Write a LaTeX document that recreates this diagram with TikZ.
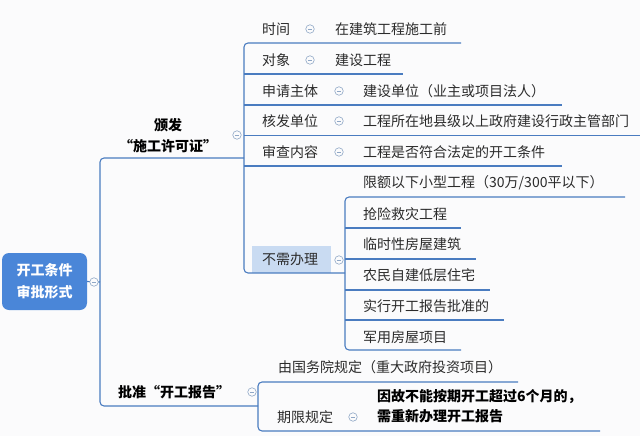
\documentclass[tikz,border=0pt]{standalone}
\usepackage{fontspec}
\newfontfamily\cjk{Noto Sans CJK SC}
\definecolor{ln}{HTML}{4A7CC0}
\definecolor{fc}{HTML}{8FA7C6}
\definecolor{tx}{HTML}{2B2B2B}
\definecolor{rootc}{HTML}{4A86D8}
\definecolor{hl}{HTML}{C9DBF2}
\definecolor{bg}{HTML}{FBFBFC}
\begin{document}
\begin{tikzpicture}[x=1pt,y=-1pt,
  txt/.style={anchor=west,inner sep=0pt,font=\cjk\fontsize{14}{17}\selectfont,text=tx},
  btxt/.style={anchor=west,inner sep=0pt,align=left,font=\cjk\bfseries\fontsize{14}{20}\selectfont,text=black},
  conn/.style={draw=ln,line width=1.1pt,rounded corners=4pt},
  fold/.style={circle,draw=fc,line width=0.6pt,fill=bg,minimum size=8.5pt,inner sep=0pt,
    path picture={\draw[fc,line width=0.6pt] ([xshift=-2.2pt]path picture bounding box.center) -- ([xshift=2.2pt]path picture bounding box.center);}}
]
\fill[bg] (0,0) rectangle (640,436);
\useasboundingbox (0,0) rectangle (640,436);

% root
\node[rectangle,rounded corners=7pt,fill=rootc,minimum width=85pt,minimum height=57pt,inner sep=0pt,
  align=center,text=white,font=\cjk\bfseries\fontsize{14}{22}\selectfont] (root) at (44.5,281.5) {开工条件\\审批形式};

% branch 1
\node[inner sep=0pt,align=center,font=\cjk\bfseries\fontsize{14}{21}\selectfont,text=black] (b1) at (168,135.5) {颁发\\“施工许可证”};
\node[btxt] (b2) at (118,392) {批准“开工报告”};

% children of branch 1
\node[txt] (c1) at (262,29) {时间};
\node[txt] (c2) at (262,60) {对象};
\node[txt] (c3) at (262,91) {申请主体};
\node[txt] (c4) at (262,121) {核发单位};
\node[txt] (c5) at (262,152) {审查内容};
\fill[hl] (252,246) rectangle (331,273);
\node[txt] (c6) at (262,259.5) {不需办理};

\node[txt] (g1) at (335,29) {在建筑工程施工前};
\node[txt] (g2) at (335,60) {建设工程};
\node[txt] (g3) at (363,91) {建设单位（业主或项目法人）};
\node[txt] (g4) at (363,121) {工程所在地县级以上政府建设行政主管部门};
\node[txt] (g5) at (363,152) {工程是否符合法定的开工条件};

\node[txt] (n1) at (363,183) {限额以下小型工程（30万/300平以下）};
\node[txt] (n2) at (363,214) {抢险救灾工程};
\node[txt] (n3) at (363,244.5) {临时性房屋建筑};
\node[txt] (n4) at (363,275.5) {农民自建低层住宅};
\node[txt] (n5) at (363,306) {实行开工报告批准的};
\node[txt] (n6) at (363,337) {军用房屋项目};

% children of branch 2
\node[txt] (d1) at (278,367) {由国务院规定（重大政府投资项目）};
\node[txt] (d2) at (277,417) {期限规定};
\node[btxt] (e1) at (377,406.5) {因故不能按期开工超过6个月的，\\需重新办理开工报告};

% coordinates
\coordinate (rj) at (100,282);
\coordinate (b1e) at (244,158);
\coordinate (b2e) at (258,406);
\coordinate (v1) at (244,43);
\coordinate (v1b) at (244,273);
\coordinate (v2) at (345,197);
\coordinate (v2b) at (345,350);
\coordinate (v3) at (258,382);
\coordinate (v3b) at (258,431);

% connectors
\draw[conn] (root.east) -- (rj);
\draw[conn] (b1e) -- (100,158) -- (100,406) -- (b2e);
\draw[conn] (461,43) -- (v1) -- (v1b) -- (v2b |- v1b);
\draw[conn] (244,74) -- (403,74);
\draw[conn] (244,105) -- (562,105);
\draw[conn] (244,135.5) -- (640,135.5);
\draw[conn] (244,166) -- (562,166);
\draw[conn] (625,197) -- (v2) -- (v2b) -- (461,350);
\draw[conn] (345,228) -- (461,228);
\draw[conn] (345,259) -- (476,259);
\draw[conn] (345,290) -- (490,290);
\draw[conn] (345,320) -- (504,320);
\draw[conn] (518,382) -- (v3) -- (v3b) -- (600,431);

% fold markers
\node[fold] (f0) at (94,282) {};
\node[fold] (f1) at (237,135) {};
\node[fold] (f2) at (252,392) {};
\node[fold] (fc1) at (310,29) {};
\node[fold] (fc2) at (310,60) {};
\node[fold] (fc3) at (339,91) {};
\node[fold] (fc4) at (339,121) {};
\node[fold] (fc5) at (339,152) {};
\node[fold] (fc6) at (339,260) {};
\node[fold] (fd2) at (353,417) {};
\end{tikzpicture}
\end{document}
